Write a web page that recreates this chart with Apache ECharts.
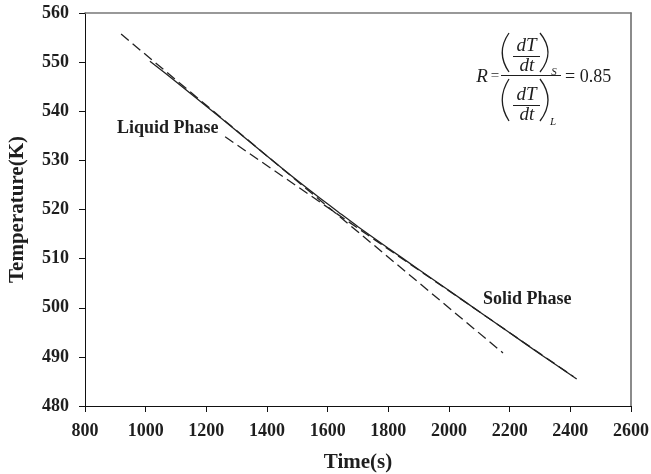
<!DOCTYPE html>
<html>
<head>
<meta charset="utf-8">
<script src="https://cdn.jsdelivr.net/npm/echarts@6/dist/echarts.min.js"></script>
<style>
html,body{margin:0;padding:0;background:#fff;}
#chart{width:651px;height:474px;}
</style>
</head>
<body>
<div id="chart"></div>
<script>
// ---- data ----
var xTicks = [800, 1000, 1200, 1400, 1600, 1800, 2000, 2200, 2400, 2600];
var yTicks = [480, 490, 500, 510, 520, 530, 540, 550, 560];

// measured cooling curve (solid line)
var curveTime = [1014, 1100, 1200, 1300, 1400, 1500, 1575, 1637, 1700, 1800, 1900, 2000, 2100, 2200, 2300, 2421];
var curveTemp = [550.2, 546.0, 541.0, 536.0, 530.9, 525.9, 522.3, 519.4, 516.5, 512.1, 507.8, 503.5, 499.2, 494.9, 490.6, 485.5];

// liquid phase linear fit (dashed)
var liquidFitTime = [919, 2178];
var liquidFitTemp = [555.7, 490.8];

// solid phase linear fit (dashed)
var solidFitTime = [1262, 2410];
var solidFitTemp = [534.8, 486.0];

function zip(a, b) { return a.map(function (v, i) { return [v, b[i]]; }); }

var FONT = '"Liberation Serif", "Times New Roman", serif';
var TXT = '#1e1e1e';
var LINE = '#222';

var chart = echarts.init(document.getElementById('chart'), null, { renderer: 'canvas' });

function paren(x1, y1, cpx, cpy, x2, y2) {
  return {
    type: 'bezierCurve',
    shape: { x1: x1, y1: y1, cpx1: cpx, cpy1: cpy, x2: x2, y2: y2 },
    style: { stroke: TXT, lineWidth: 1.3, fill: null }
  };
}
function txt(x, y, s, font, align) {
  return {
    type: 'text',
    x: x, y: y,
    style: { text: s, font: font, fill: TXT, align: align || 'center', verticalAlign: 'middle' }
  };
}
function hline(x1, x2, y) {
  return {
    type: 'line',
    shape: { x1: x1, y1: y, x2: x2, y2: y },
    style: { stroke: TXT, lineWidth: 1 }
  };
}

var IT = 'italic 19px ' + FONT;
var RM = '18px ' + FONT;

var option = {
  animation: false,
  backgroundColor: '#fff',
  grid: { left: 85, right: 20, top: 13, bottom: 68, containLabel: false, outerBoundsMode: 'none' },
  xAxis: [{
    type: 'value',
    min: 800, max: 2600, interval: 200,
    name: 'Time(s)',
    nameLocation: 'middle',
    nameGap: 46,
    nameTextStyle: { fontFamily: FONT, fontWeight: 'bold', fontSize: 21, color: TXT },
    axisLine: { show: true, lineStyle: { color: '#111', width: 1 } },
    axisTick: { show: true, inside: false, length: 6, lineStyle: { color: '#111', width: 1 } },
    axisLabel: { fontFamily: FONT, fontWeight: 'bold', fontSize: 18, color: TXT, margin: 16,
      customValues: xTicks, formatter: function (v) { return String(v); } },
    splitLine: { show: false }
  }, {
    type: 'value', position: 'top', min: 800, max: 2600,
    axisLine: { show: true, onZero: false, lineStyle: { color: '#777', width: 1.7 } },
    axisTick: { show: false }, axisLabel: { show: false }, splitLine: { show: false }
  }],
  yAxis: [{
    type: 'value',
    min: 480, max: 560, interval: 10,
    name: 'Temperature(K)',
    nameLocation: 'middle',
    nameGap: 57,
    nameTextStyle: { fontFamily: FONT, fontWeight: 'bold', fontSize: 21, color: TXT },
    axisLine: { show: true, lineStyle: { color: '#111', width: 1 } },
    axisTick: { show: true, inside: false, length: 6, lineStyle: { color: '#111', width: 1 } },
    axisLabel: { fontFamily: FONT, fontWeight: 'bold', fontSize: 18, color: TXT, margin: 16,
      customValues: yTicks, formatter: function (v) { return String(v); } },
    splitLine: { show: false }
  }, {
    type: 'value', position: 'right', min: 480, max: 560,
    axisLine: { show: true, onZero: false, lineStyle: { color: '#777', width: 1.7 } },
    axisTick: { show: false }, axisLabel: { show: false }, splitLine: { show: false }
  }],
  series: [{
    name: 'Cooling curve',
    type: 'line',
    data: zip(curveTime, curveTemp),
    smooth: 0.3,
    symbol: 'none',
    lineStyle: { color: LINE, width: 1.3 },
    z: 3
  }, {
    name: 'Liquid fit',
    type: 'line',
    data: zip(liquidFitTime, liquidFitTemp),
    symbol: 'none',
    lineStyle: { color: LINE, width: 1.3, type: [10, 5] },
    z: 2
  }, {
    name: 'Solid fit',
    type: 'line',
    data: zip(solidFitTime, solidFitTemp),
    symbol: 'none',
    lineStyle: { color: LINE, width: 1.3, type: [10, 5] },
    z: 2
  }],
  graphic: [
    { type: 'text', left: 117, top: 119,
      style: { text: 'Liquid Phase', font: 'bold 18px ' + FONT, fill: TXT } },
    { type: 'text', left: 483, top: 290,
      style: { text: 'Solid Phase', font: 'bold 18px ' + FONT, fill: TXT } },
    {
      type: 'group',
      children: [
        txt(482, 77, 'R', IT),
        txt(495, 76, '=', '15px ' + FONT),
        hline(501, 561, 75.5),
        // numerator
        paren(509, 33, 495.5, 52.5, 509, 72),
        paren(540, 33, 556, 52.5, 540, 72),
        txt(526.5, 46, 'dT', IT),
        hline(513, 540, 56.5),
        txt(527, 66, 'dt', IT),
        txt(554, 72, 'S', 'italic 11px ' + FONT),
        // denominator
        paren(509, 79, 495.5, 100, 509, 121),
        paren(540, 79, 556, 100, 540, 121),
        txt(526.5, 95, 'dT', IT),
        hline(513, 540, 105.5),
        txt(527, 115, 'dt', IT),
        txt(553, 122, 'L', 'italic 11px ' + FONT),
        txt(565, 77, '= 0.85', RM, 'left')
      ]
    }
  ]
};
chart.setOption(option);
</script>
</body>
</html>
